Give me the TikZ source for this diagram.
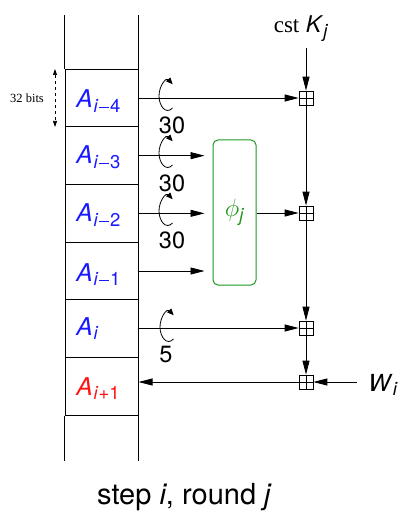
\documentclass[tikz,border=0pt]{standalone}
\usepackage{fontspec}
\setmainfont{TeX Gyre Heros}
\newfontfamily\serifface{Liberation Serif}
\usetikzlibrary{arrows.meta}
\definecolor{myblue}{RGB}{25,25,255}
\definecolor{myred}{RGB}{255,20,20}
\definecolor{mygreen}{RGB}{30,150,30}
\newcommand\subx[1]{\raisebox{-4.5pt}{\fontsize{18.5}{18.5}\selectfont #1}}
\newcommand\mminus{\kern0.8pt\rule[4.6pt]{10pt}{1.1pt}\kern0.8pt}
\newcommand\Alab[1]{\textit{A}\kern1pt\subx{\textit{i}#1}}
\begin{document}
\begin{tikzpicture}[x=1pt,y=-1pt,
  >={Triangle[length=14pt,width=7pt]},
  line width=0.8pt,
  cell/.style={draw, minimum width=73pt, minimum height=57.67pt, inner sep=0pt, line width=1pt},
  lab/.style={anchor=base west, inner sep=0pt, font=\fontsize{24.5}{24.5}\selectfont},
  num/.style={inner sep=0pt, font=\fontsize{23.5}{23.5}\selectfont},
  plusbox/.style={draw, minimum size=14pt, inner sep=0pt, line width=0.7pt,
    path picture={\draw[line width=0.7pt] (path picture bounding box.north) -- (path picture bounding box.south)
      (path picture bounding box.west) -- (path picture bounding box.east);}},
  rot/.style={->, >={Triangle[length=6.5pt,width=5.5pt]}, line width=0.8pt},
]
\useasboundingbox (0,0) rectangle (399,518);
% column
\node[cell] (c4) at (101.5,98) {};
\node[cell] (c3) at (101.5,155.67) {};
\node[cell] (c2) at (101.5,213.33) {};
\node[cell] (c1) at (101.5,271) {};
\node[cell] (c0) at (101.5,328.67) {};
\node[cell] (cn) at (101.5,386.33) {};
\draw[line width=1pt] (c4.north west) -- ++(0,-54) (c4.north east) -- ++(0,-54);
\draw[line width=1pt] (cn.south west) -- ++(0,45) (cn.south east) -- ++(0,45);
% labels
\node[lab, text=myblue] (l4) at (76,108) {\Alab{\mminus 4}};
\node[lab, text=myblue] (l3) at (76,164) {\Alab{\mminus 3}};
\node[lab, text=myblue] (l2) at (76,222) {\Alab{\mminus 2}};
\node[lab, text=myblue] (l1) at (76,281) {\Alab{\mminus 1}};
\node[lab, text=myblue] (l0) at (76,335) {\Alab{}};
\node[lab, text=myred] (ln) at (76,395) {\Alab{+1}};
% 32 bits
\node[inner sep=0pt, font=\serifface\fontsize{12.5}{12.5}\selectfont] (bits) at (27,98) {32 bits};
\coordinate (bt) at (55,69);
\coordinate (bb) at (55,127);
\draw[dashed, line width=0.7pt, {Triangle[length=6pt,width=4pt]}-{Triangle[length=6pt,width=4pt]}] (bt) -- (bb);
% plus boxes
\node[plusbox] (p1) at (306,98) {};
\node[plusbox] (p2) at (306,213) {};
\node[plusbox] (p3) at (306,328) {};
\node[plusbox] (p4) at (306,382) {};
% phi box
\node[draw=mygreen, line width=1pt, rounded corners=5pt, minimum width=43pt, minimum height=145pt, inner sep=0pt, text=mygreen] (phi) at (234.5,212.5)
  {\fontsize{25}{25}\selectfont$\phi$\subx{\textit{j}}};
% constant
\node[inner sep=0pt, anchor=base] (cst) at (301,33) {\fontsize{23}{23}\selectfont{\serifface cst} \textit{K}\subx{\textit{j}}};
\coordinate (ktop) at (306,48);
\draw[->] (ktop) -- (p1.north);
\draw[->] (p1.south) -- (p2.north);
\draw[->] (p2.south) -- (p3.north);
\draw[->] (p3.south) -- (p4.north);
% W
\node[inner sep=0pt, anchor=base east] (w) at (398,391) {\fontsize{23.5}{23.5}\selectfont\textit{W}\subx{\textit{i}}};
\coordinate (wstart) at (357,382);
\draw[->] (wstart) -- (p4.east);
\draw[->] (p4.west) -- (cn.east |- p4.west);
% row arrows
\draw[->] (c4.east) -- (p1.west);
\draw[->] (c3.east) -- ([xshift=-8pt]phi.west |- c3.east);
\draw[->] (c2.east) -- ([xshift=-8pt]phi.west |- c2.east);
\draw[->] (c1.east) -- ([xshift=-8pt]phi.west |- c1.east);
\draw[->] (phi.east |- p2.west) -- (p2.west);
\draw[->] (c0.east |- p3.west) -- (p3.west);
% rotations (y grows downward here)
\foreach \cx/\cy in {167/96, 167/153, 167/211, 168/327}{
  \draw[rot] (\cx+5.5,\cy+12) .. controls (\cx-1,\cy+19) and (\cx-8,\cy+10) .. (\cx-8,\cy)
     .. controls (\cx-8,\cy-10) and (\cx-1,\cy-19) .. (\cx+5.6,\cy-11.8);
}
\node[num] (r1) at (172,125) {30};
\node[num] (r2) at (172,183) {30};
\node[num] (r3) at (172,240) {30};
\node[num] (r4) at (166,355) {5};
% caption
\node[inner sep=0pt, font=\fontsize{29}{29}\selectfont] (cap) at (184.5,497) {step \textit{i}, round \textit{j}};
\end{tikzpicture}
\end{document}
